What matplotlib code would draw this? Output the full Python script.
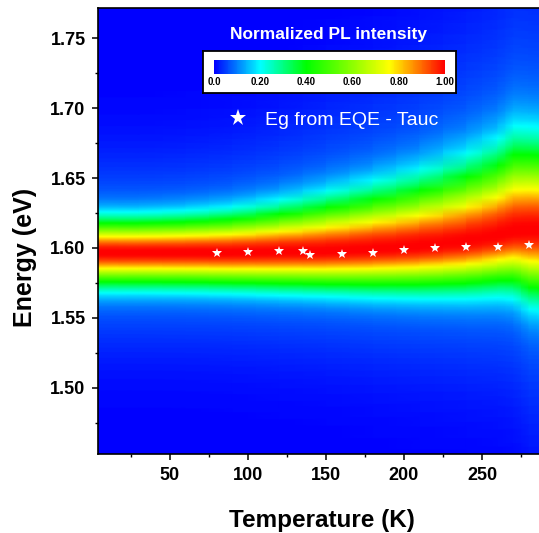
import numpy as np
import matplotlib
matplotlib.use("Agg")
import matplotlib.pyplot as plt
from matplotlib.colors import LinearSegmentedColormap
from matplotlib.ticker import MultipleLocator, FormatStrFormatter

plt.rcParams["font.family"] = ["Liberation Sans", "DejaVu Sans"]

# Temperature columns of the PL map (K)
temperature = np.array([4, 30, 60, 90, 120, 150, 180, 210, 240, 260, 270, 280, 291])
# Peak position and high/low energy widths of each normalized spectrum (eV)
peak_energy = np.array([1.597, 1.597, 1.597, 1.597, 1.5975, 1.598, 1.5995,
                        1.6015, 1.605, 1.609, 1.612, 1.613, 1.613])
width_high = np.array([0.0144, 0.0144, 0.0150, 0.0163, 0.0185, 0.0215, 0.0243,
                       0.0275, 0.0315, 0.0345, 0.0375, 0.0368, 0.0362])
width_low = np.array([0.0144, 0.0144, 0.0145, 0.0148, 0.0155, 0.0162, 0.0175,
                      0.0188, 0.0205, 0.0220, 0.0240, 0.0280, 0.0290])
tail_fraction = 0.12

# Band gap from EQE (Tauc plot)
eg_temperature = [80, 100, 120, 135, 140, 160, 180, 200, 220, 240, 260, 280]
eg_energy = [1.5966, 1.5971, 1.5976, 1.5981, 1.5948, 1.5959, 1.5966,
             1.5984, 1.6002, 1.6007, 1.6007, 1.6021]

cbar_ticks = [0.0, 0.2, 0.4, 0.6, 0.8, 1.0]
cbar_labels = ["0.0", "0.20", "0.40", "0.60", "0.80", "1.00"]

# rainbow map: blue -> cyan -> green -> yellow -> red
pl_cmap = LinearSegmentedColormap.from_list("pl_rainbow", [
    (0.0, (0.0, 0.0, 1.0)),
    (0.2, (0.0, 1.0, 1.0)),
    (0.4, (0.0, 1.0, 0.0)),
    (0.76, (1.0, 1.0, 0.0)),
    (0.88, (1.0, 0.5, 0.0)),
    (1.0, (1.0, 0.0, 0.0)),
])

# build normalized spectra column by column
energy = np.linspace(1.44, 1.78, 500)
spectra = []
for c, su, sl in zip(peak_energy, width_high, width_low):
    side = np.where(energy >= c, su, sl)
    line = np.exp(-0.5 * ((energy - c) / side) ** 2)
    line += tail_fraction * np.exp(-0.5 * ((energy - c) / (3 * side)) ** 2)
    spectra.append(line / line.max())
intensity = np.array(spectra).T

W, H = 539, 533
fig = plt.figure(figsize=(W / 100, H / 100), dpi=100)
ax = fig.add_axes([98 / W, 1 - 454 / H, (545 - 98) / W, (454 - 8) / H])

mesh = ax.pcolormesh(temperature, energy, intensity, shading="gouraud",
                     cmap=pl_cmap, vmin=0, vmax=1, rasterized=True)
ax.plot(eg_temperature, eg_energy, linestyle="none", marker="*",
        markersize=7, color="white", markeredgewidth=0,
        label="Eg from EQE - Tauc", zorder=3)

ax.set_xlim(3.85, 290.4)
ax.set_ylim(1.4526, 1.7717)
ax.xaxis.set_major_locator(MultipleLocator(50))
ax.xaxis.set_minor_locator(MultipleLocator(25))
ax.yaxis.set_major_locator(MultipleLocator(0.05))
ax.yaxis.set_minor_locator(MultipleLocator(0.025))
ax.yaxis.set_major_formatter(FormatStrFormatter("%.2f"))
ax.tick_params(which="major", direction="out", length=4, width=1.1,
               labelsize=13, pad=5)
ax.tick_params(which="minor", direction="out", length=2.5, width=1.0)
for lbl in ax.get_xticklabels() + ax.get_yticklabels():
    lbl.set_fontweight("bold")
for sp in ax.spines.values():
    sp.set_linewidth(1.2)

fig.text(25 / W, 1 - 257 / H, "Energy (eV)", rotation=90, ha="center",
         va="center", fontsize=18, fontweight="bold")
fig.text(322 / W, 1 - 521 / H, "Temperature (K)", ha="center",
         va="center", fontsize=17.5, fontweight="bold")

leg = ax.legend(loc="center left", bbox_to_anchor=((224 - 98) / 447, 0.749),
                frameon=False, fontsize=14, labelcolor="white",
                borderaxespad=0, borderpad=0, handlelength=1.4,
                handletextpad=0.7, markerscale=1.8)

# colour scale inset
box = fig.add_axes([203 / W, 1 - 93 / H, (456 - 203) / W, (93 - 51) / H])
box.set_facecolor("white")
box.set_xticks([])
box.set_yticks([])
for sp in box.spines.values():
    sp.set_linewidth(1.3)
    sp.set_color("black")
box.set_zorder(4)

cax = fig.add_axes([214 / W, 1 - 74 / H, (445 - 214) / W, (74 - 60) / H])
cax.set_zorder(5)
cb = fig.colorbar(mesh, cax=cax, orientation="horizontal", ticks=cbar_ticks)
cb.outline.set_visible(False)
cb.ax.set_xticklabels(cbar_labels)
cb.ax.tick_params(length=0, labelsize=7, pad=2)
for lbl in cb.ax.get_xticklabels():
    lbl.set_fontweight("bold")

fig.text(328 / W, 1 - 35 / H, "Normalized PL intensity", ha="center",
         va="center", fontsize=12.5, fontweight="bold", color="white")

fig.savefig("out.png", dpi=100)
